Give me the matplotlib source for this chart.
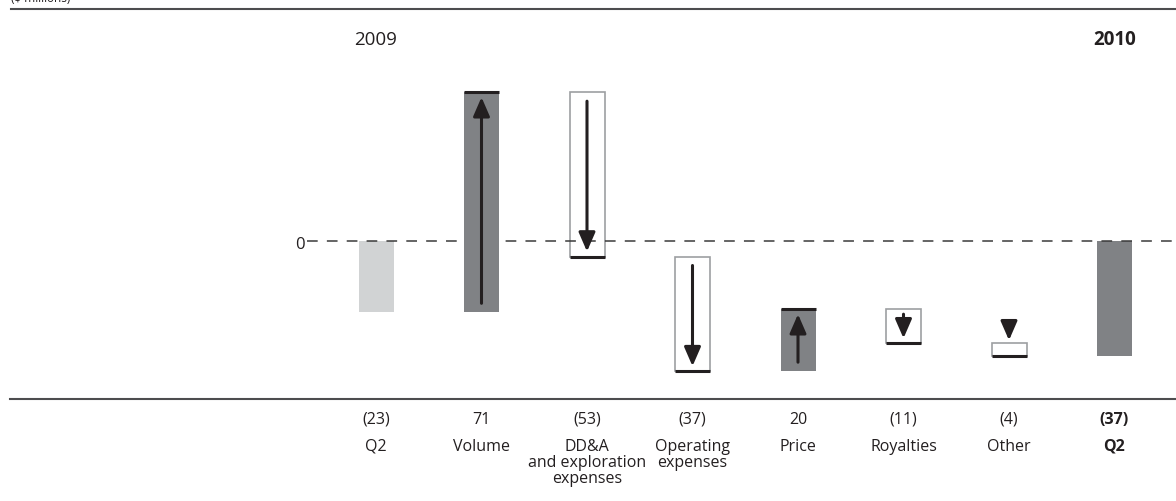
import matplotlib
matplotlib.use("Agg")
import matplotlib.pyplot as plt
from matplotlib.lines import Line2D
from matplotlib.patches import ArrowStyle

# --- data ($ millions) ---
categories = ["Q2", "Volume", "DD&A\nand exploration\nexpenses", "Operating\nexpenses",
              "Price", "Royalties", "Other", "Q2"]
start_value = -23
changes = [71, -53, -37, 20, -11, -4]
end_value = -37
period_labels = ["2009", "2010"]
unit_label = "($ millions)"

# --- styling ---
LIGHT = "#d1d3d4"
DARK = "#808285"
INK = "#231f20"
OUTLINE = "#9d9fa2"
RULE = "#4d4d4f"
FONT = "Open Sans"
LABEL_SIZE = 11.5

W, H = 1176, 502
fig = plt.figure(figsize=(W / 100, H / 100), dpi=100)
ax = fig.add_axes([0, 0, 1, 1])
ax.set_axis_off()

PPU = 3.1          # pixels per $ million
ZERO_PY = 242      # pixel row of the zero line
X0_PX, STEP_PX = 376, 105.5
ax.set_ylim(-(H - ZERO_PY) / PPU, ZERO_PY / PPU)
ax.set_xlim(-X0_PX / STEP_PX, (W - X0_PX) / STEP_PX)


def py(px):      # pixel distance -> data units (vertical)
    return px / PPU


def pxx(px):     # pixel distance -> data units (horizontal)
    return px / STEP_PX


def row(px):     # pixel row -> axes fraction
    return 1 - px / H


bw = pxx(35)
head = ArrowStyle("-|>", head_length=1.15, head_width=0.5)


def arrow(x, tail, tip):
    ax.annotate("", xy=(x, tip), xytext=(x, tail),
                arrowprops=dict(arrowstyle=head, color=INK, lw=2.2,
                                shrinkA=0, shrinkB=0, mutation_scale=10),
                zorder=6)


# zero line with tick
ax.plot([pxx(307 - X0_PX), ax.get_xlim()[1]], [0, 0], color="#3a3a3a",
        lw=1.1, ls=(0, (7, 6)), zorder=3)
ax.text(pxx(305 - X0_PX), -py(7), "0", ha="right", va="baseline",
        fontsize=12, color=INK, family=FONT)

# opening bar
ax.bar(0, start_value, width=bw, color=LIGHT, zorder=2)

# change bars
running = start_value
for i, ch in enumerate(changes, start=1):
    end = running + ch
    sign = 1 if ch > 0 else -1
    if ch > 0:
        ax.bar(i, ch, bottom=running, width=bw, color=DARK, zorder=4)
    else:
        ax.bar(i, ch, bottom=running, width=bw, facecolor="white",
               edgecolor=OUTLINE, lw=1.2, zorder=2)
    ax.hlines(end, i - bw / 2, i + bw / 2, color=INK, lw=2.2, zorder=5)
    span_px = abs(ch) * PPU
    if span_px >= 25:
        inset = 9 if span_px > 45 else 5
        arrow(i, running + sign * py(inset), end - sign * py(5))
    else:
        tip = max(running, end) + py(3)
        arrow(i, tip + py(16), tip)
    running = end

# closing bar
n = len(categories) - 1
ax.bar(n, end_value, width=bw, color=DARK, zorder=2)

# value and category labels
tr = ax.get_xaxis_transform()
values = [start_value] + changes + [end_value]


def fmt(v):
    return f"({abs(v)})" if v < 0 else f"{v}"


VALUE_ROW = 424
LINE_ROWS = [451, 467, 483]
for i, (cat, v) in enumerate(zip(categories, values)):
    weight = "bold" if i == n else "normal"
    ax.text(i, row(VALUE_ROW), fmt(v), transform=tr, ha="center", va="baseline",
            fontsize=LABEL_SIZE, color=INK, family=FONT, fontweight=weight)
    for k, line in enumerate(cat.split("\n")):
        ax.text(i, row(LINE_ROWS[k]), line, transform=tr, ha="center",
                va="baseline", fontsize=LABEL_SIZE, color=INK, family=FONT,
                fontweight=weight)

# period headings
ax.text(0, row(45), period_labels[0], transform=tr, ha="center", va="baseline",
        fontsize=13.5, color=INK, family=FONT)
ax.text(n, row(45), period_labels[1], transform=tr, ha="center", va="baseline",
        fontsize=13.5, color=INK, family=FONT, fontweight="bold")

# rules and unit caption
fig.add_artist(Line2D([11 / W, 1], [row(9.5)] * 2, color=RULE, lw=1.5))
fig.add_artist(Line2D([10 / W, 1], [row(399.5)] * 2, color=RULE, lw=1.5))
fig.text(11 / W, row(2), unit_label, ha="left", va="baseline",
         fontsize=8.5, color=INK, family=FONT)

fig.savefig("out.png", dpi=100)
